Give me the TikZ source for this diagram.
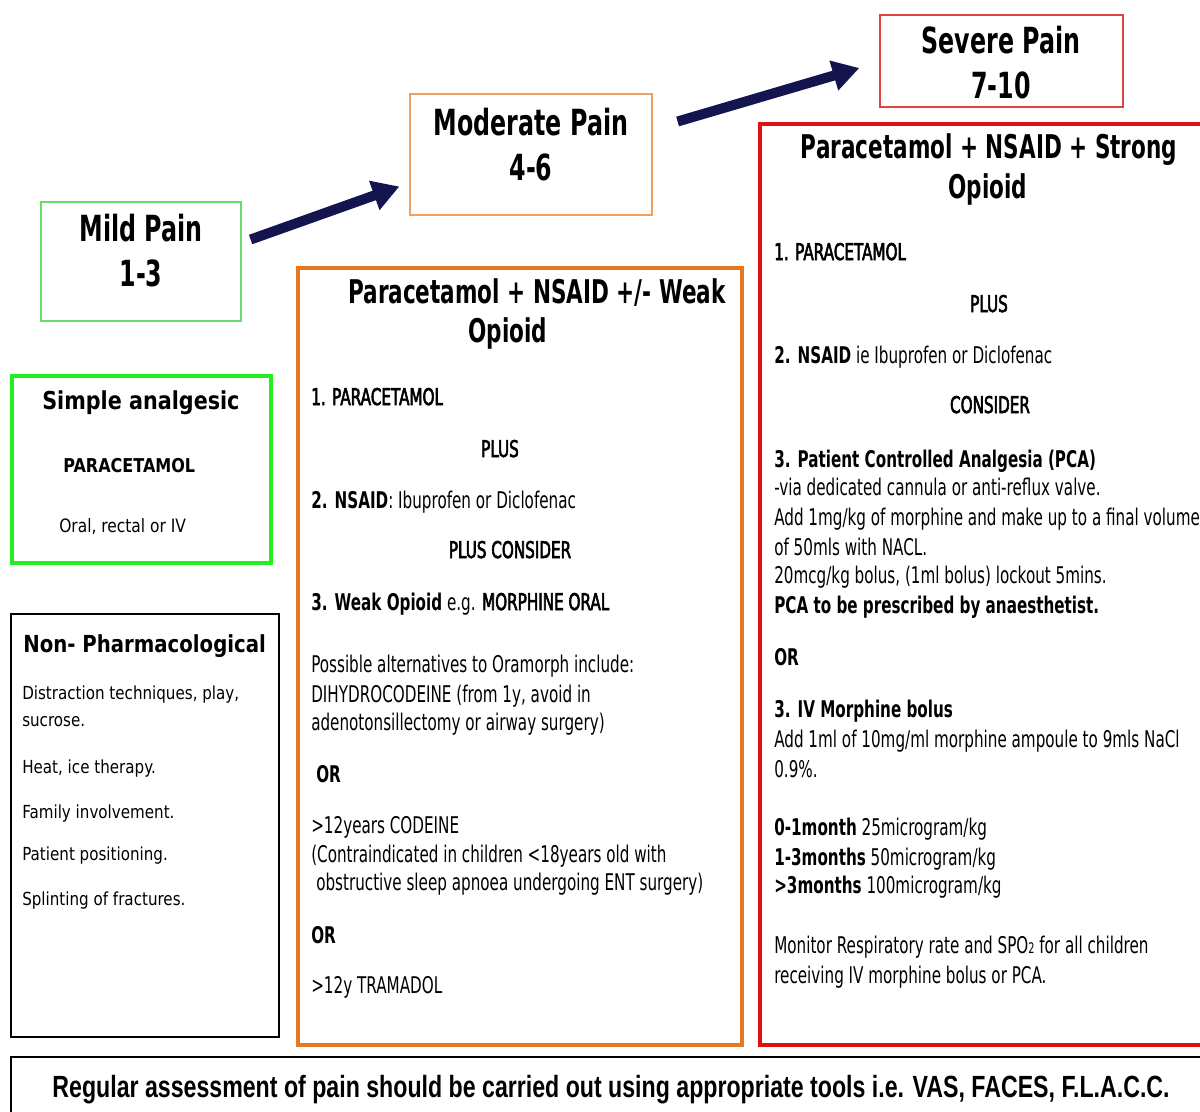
\documentclass[tikz,border=0pt]{standalone}
\usepackage{fontspec}
\usetikzlibrary{fit,arrows.meta}
\newfontfamily\condf{DejaVu Sans}[FakeStretch=0.66]
\newfontfamily\condm{DejaVu Sans}[FakeStretch=0.66,FakeBold=2.5]
\newfontfamily\tahf{DejaVu Sans}[FakeStretch=0.84]
\newfontfamily\arialc{Liberation Sans}[FakeStretch=0.755]
\definecolor{mildg}{HTML}{66DD66}
\definecolor{simpg}{HTML}{22EE22}
\definecolor{modo}{HTML}{F0A060}
\definecolor{bigo}{HTML}{E87722}
\definecolor{sevr}{HTML}{DD4444}
\definecolor{bigr}{HTML}{E01010}
\definecolor{navyc}{HTML}{14144E}
\newcommand\semi[1]{{\condm #1}}
\tikzset{
  txt/.style={inner sep=0pt,anchor=base west},
  ctxt/.style={inner sep=0pt,anchor=base},
  paintitle/.style={ctxt,font={\condf\bfseries\fontsize{27}{30}\selectfont}},
  boxtitle/.style={ctxt,font={\condf\bfseries\fontsize{24.5}{28}\selectfont}},
  body/.style={txt,font={\condf\fontsize{17.25}{20}\selectfont}},
  bodyb/.style={txt,font={\condf\bfseries\fontsize{17.25}{20}\selectfont}},
  bodym/.style={txt,font={\condm\fontsize{17.25}{20}\selectfont}},
  cbodym/.style={ctxt,font={\condm\fontsize{17.25}{20}\selectfont}},
  lefttitle/.style={txt,font={\tahf\bfseries\fontsize{18.5}{22}\selectfont}},
  leftitem/.style={txt,font={\tahf\fontsize{13.5}{16}\selectfont}},
  thinbox/.style={draw,line width=0.9pt,inner sep=0pt},
  thickbox/.style={draw,line width=2.6pt,inner sep=0pt},
  bigarrow/.style={navyc,line width=7.5pt,-{Triangle[length=20pt,width=22pt]}},
}
\begin{document}
\begin{tikzpicture}[x=0.75pt,y=-0.75pt]
\useasboundingbox (0,0) rectangle (1200,1111);
\clip (0,0) rectangle (1200,1111);
\fill[white] (0,0) rectangle (1200,1111);
% pain level boxes
\node[thinbox,draw=mildg,fit={(41,202) (241,321)}] (mild) {};
\node[thinbox,draw=modo,fit={(410,94) (652,215)}] (moderate) {};
\node[thinbox,draw=sevr,fit={(880,15) (1123,107)}] (severe) {};
\node[paintitle] (mild1) at (141,241) {Mild Pain};
\node[paintitle] (mild2) at (141,286) {1-3};
\node[paintitle] (mod1) at (531,135) {Moderate Pain};
\node[paintitle] (mod2) at (531,180) {4-6};
\node[paintitle] (sev1) at (1001,53) {Severe Pain};
\node[paintitle] (sev2) at (1001,98) {7-10};
% arrows
\draw[bigarrow] ([shift={(9,-22)}]mild.east) -- ([shift={(-10,32)}]moderate.west);
\draw[bigarrow] ([shift={(25,-33)}]moderate.east) -- ([shift={(-20,7)}]severe.west);
% simple analgesic
\node[thickbox,draw=simpg,fit={(12,376) (271,563)}] (simple) {};
\node[lefttitle] (s1) at (42,409) {Simple analgesic};
\node[txt,font={\tahf\bfseries\fontsize{14.3}{18}\selectfont}] (s2) at (63,472) {PARACETAMOL};
\node[txt,font={\tahf\fontsize{13.8}{16}\selectfont}] (s3) at (59,532) {Oral, rectal or IV};
% non pharmacological
\node[thinbox,draw=black,fit={(11,614) (279,1037)}] (nonph) {};
\node[lefttitle,font={\tahf\bfseries\fontsize{17.6}{22}\selectfont}] (n0) at (23,652) {Non- Pharmacological};
\node[leftitem] (n1) at (22,699) {Distraction techniques, play,};
\node[leftitem] (n2) at (22,726) {sucrose.};
\node[leftitem] (n3) at (22,773) {Heat, ice therapy.};
\node[leftitem] (n4) at (22,818) {Family involvement.};
\node[leftitem] (n5) at (22,860) {Patient positioning.};
\node[leftitem] (n6) at (22,905) {Splinting of fractures.};
% orange box
\node[thickbox,draw=bigo,fit={(298,268) (742,1045)}] (orangebox) {};
\node[boxtitle] (ot1) at (537,303) {Paracetamol + NSAID +/- Weak};
\node[boxtitle] (ot2) at (508,342) {Opioid};
\node[bodym] (o1) at (311,405) {1. PARACETAMOL};
\node[cbodym] (o2) at (500,457) {PLUS};
\node[body] (o3) at (311,508) {\textbf{2. NSAID}: Ibuprofen or Diclofenac};
\node[cbodym] (o4) at (510,558) {PLUS CONSIDER};
\node[body] (o5) at (311,610) {\textbf{3. Weak Opioid} e.g. \semi{MORPHINE ORAL}};
\node[body] (o6) at (311,672) {Possible alternatives to Oramorph include:};
\node[body] (o7) at (311,702) {DIHYDROCODEINE (from 1y, avoid in};
\node[body] (o8) at (311,730) {adenotonsillectomy or airway surgery)};
\node[bodyb] (o9) at (316,782) {OR};
\node[body] (o10) at (311,833) {>12years CODEINE};
\node[body] (o11) at (311,862) {(Contraindicated in children <18years old with};
\node[body] (o12) at (316,890) {obstructive sleep apnoea undergoing ENT surgery)};
\node[bodyb] (o13) at (311,943) {OR};
\node[body] (o14) at (311,993) {>12y TRAMADOL};
% red box
\node[thickbox,draw=bigr,fit={(760,124) (1215,1045)}] (redbox) {};
\node[boxtitle] (rt1) at (989,158) {Paracetamol + NSAID + Strong};
\node[boxtitle] (rt2) at (988,198) {Opioid};
\node[bodym] (r1) at (774,260) {1. PARACETAMOL};
\node[cbodym] (r2) at (989,312) {PLUS};
\node[body] (r3) at (774,363) {\textbf{2. NSAID} ie Ibuprofen or Diclofenac};
\node[cbodym] (r4) at (990,413) {CONSIDER};
\node[bodyb] (r5) at (774,467) {3. Patient Controlled Analgesia (PCA)};
\node[body] (r6) at (774,495) {-via dedicated cannula or anti-reflux valve.};
\node[body] (r7) at (774,525) {Add 1mg/kg of morphine and make up to a final volume};
\node[body] (r8) at (774,555) {of 50mls with NACL.};
\node[body] (r9) at (774,583) {20mcg/kg bolus, (1ml bolus) lockout 5mins.};
\node[bodyb] (r10) at (774,613) {PCA to be prescribed by anaesthetist.};
\node[bodyb] (r11) at (774,665) {OR};
\node[bodyb] (r12) at (774,717) {3. IV Morphine bolus};
\node[body] (r13) at (774,747) {Add 1ml of 10mg/ml morphine ampoule to 9mls NaCl};
\node[body] (r14) at (774,777) {0.9\%.};
\node[body] (r15) at (774,835) {\textbf{0-1month} 25microgram/kg};
\node[body] (r16) at (774,865) {\textbf{1-3months} 50microgram/kg};
\node[body] (r17) at (774,893) {\textbf{>3months} 100microgram/kg};
\node[body] (r18) at (774,953) {Monitor Respiratory rate and SPO{\fontsize{11}{12}\selectfont 2} for all children};
\node[body] (r19) at (774,983) {receiving IV morphine bolus or PCA.};
% bottom box
\node[thinbox,draw=black,fit={(11,1057) (1215,1120)}] (bottombox) {};
\node[ctxt,font={\arialc\bfseries\fontsize{23}{26}\selectfont}] (bt) at (611,1097) {Regular assessment of pain should be carried out using appropriate tools i.e. VAS, FACES, F.L.A.C.C.};
\end{tikzpicture}
\end{document}
